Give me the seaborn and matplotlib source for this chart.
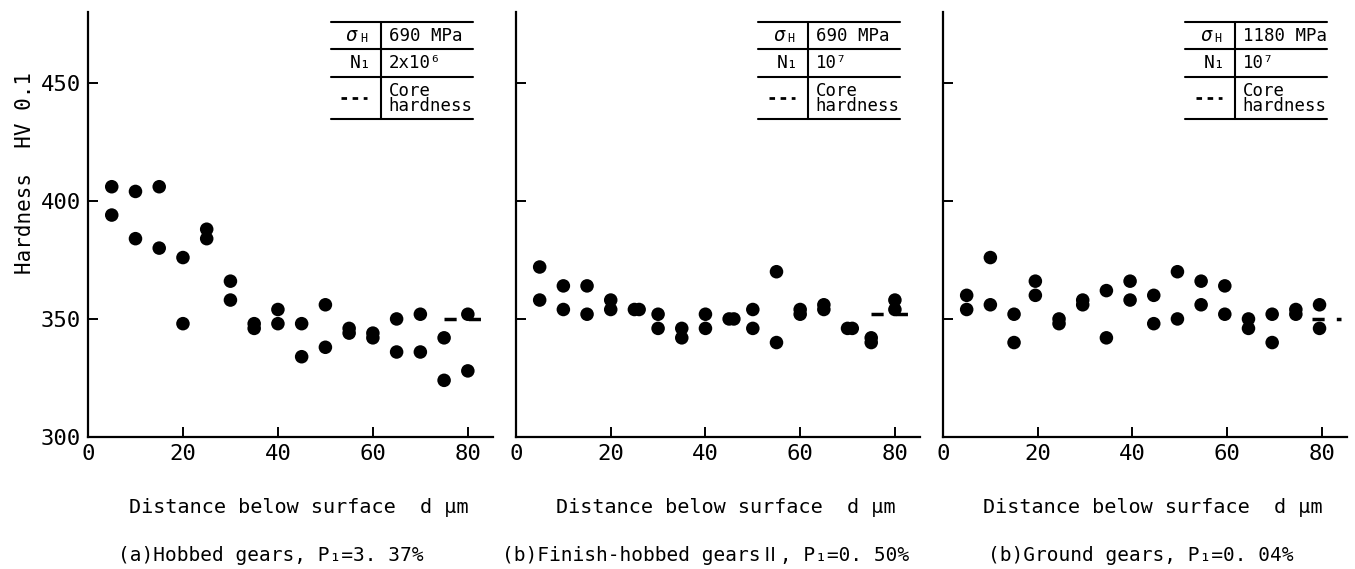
import pandas as pd
import matplotlib
matplotlib.use("Agg")
import matplotlib.pyplot as plt
import seaborn as sns

# ----------------------------------------------------------
# data
# ----------------------------------------------------------
a_x = [5, 5, 10, 10, 15, 15, 20, 20, 25, 25, 30, 30, 35, 35, 40, 40,
       45, 45, 50, 50, 55, 55, 60, 60, 65, 65, 70, 70, 75, 75, 80, 80]
a_y = [406, 394, 404, 384, 406, 380, 376, 348, 388, 384, 366, 358, 348, 346, 354, 348,
       348, 334, 356, 338, 346, 344, 344, 342, 350, 336, 352, 336, 342, 324, 352, 328]

b_x = [5, 5, 10, 10, 15, 15, 20, 20, 25, 26, 30, 30, 35, 35, 40, 40,
       45, 46, 50, 50, 55, 55, 60, 60, 65, 65, 70, 71, 75, 75, 80, 80]
b_y = [372, 358, 364, 354, 364, 352, 358, 354, 354, 354, 352, 346, 346, 342, 352, 346,
       350, 350, 354, 346, 370, 340, 354, 352, 356, 354, 346, 346, 342, 340, 358, 354]

c_x = [5, 5, 10, 10, 15, 15, 19.5, 19.5, 24.5, 24.5, 29.5, 29.5, 34.5, 34.5, 39.5, 39.5,
       44.5, 44.5, 49.5, 49.5, 54.5, 54.5, 59.5, 59.5, 64.5, 64.5, 69.5, 69.5, 74.5, 74.5, 79.5, 79.5]
c_y = [360, 354, 376, 356, 352, 340, 366, 360, 350, 348, 358, 356, 362, 342, 366, 358,
       360, 348, 370, 350, 366, 356, 364, 352, 350, 346, 352, 340, 354, 352, 356, 346]

core_hv = [350, 352, 350]
core_from = [75, 75, 78]
core_to = [85, 85, 84]

stress = ["690 MPa", "690 MPa", "1180 MPa"]
cycles = ["2x10\u2076", "10\u2077", "10\u2077"]
captions = ["(a)Hobbed gears, P\u2081=3. 37%",
            "(b)Finish-hobbed gears\u2161, P\u2081=0. 50%",
            "(b)Ground gears, P\u2081=0. 04%"]
xlabel = "Distance below surface  d \u03bcm"
ylabel = "Hardness  HV 0.1"

sns.set_style("ticks")
plt.rcParams["font.family"] = ["DejaVu Sans Mono", "Noto Sans CJK JP", "DejaVu Sans"]
plt.rcParams["text.color"] = "black"

fig = plt.figure(figsize=(13.55, 5.69), dpi=100)
lefts = [88, 516, 943]
rights = [493, 920, 1347]
cap_pos = [0.45, 0.47, 0.49]
panels = [(a_x, a_y), (b_x, b_y), (c_x, c_y)]

for i, (xs, ys) in enumerate(panels):
    l = lefts[i] / 1355
    w = (rights[i] - lefts[i]) / 1355
    ax = fig.add_axes([l, 1 - 437 / 569, w, 425 / 569])
    df = pd.DataFrame({"d": xs, "hv": ys})
    sns.scatterplot(data=df, x="d", y="hv", ax=ax, color="black", s=95,
                    edgecolor="none", zorder=3)
    ax.plot([core_from[i], core_to[i]], [core_hv[i], core_hv[i]], color="black",
            lw=2.5, ls=(0, (3.5, 3.5)), zorder=2)

    ax.set_xlim(0, 85.3)
    ax.set_ylim(300, 480)
    ax.set_xticks([0, 20, 40, 60, 80])
    ax.set_yticks([300, 350, 400, 450])
    ax.set_xlabel("")
    ax.set_ylabel("")
    sns.despine(ax=ax)
    for s in ["left", "bottom"]:
        ax.spines[s].set_linewidth(1.6)
        ax.spines[s].set_color("black")
    ax.tick_params(direction="in", length=7, width=1.4, colors="black",
                   labelsize=16, pad=5)
    if i > 0:
        ax.set_yticklabels([])

    ax.text(0.52, -0.167, xlabel, transform=ax.transAxes, ha="center",
            va="center", fontsize=14.5)
    ax.text(cap_pos[i], -0.278, captions[i], transform=ax.transAxes,
            ha="center", va="center", fontsize=14)

    # little table in the corner
    x0, x1, xm = 0.60, 0.95, 0.723
    for yy in [0.976, 0.913, 0.847, 0.748]:
        ax.plot([x0, x1], [yy, yy], transform=ax.transAxes, color="black",
                lw=1.5, clip_on=False)
    ax.plot([xm, xm], [0.976, 0.748], transform=ax.transAxes, color="black",
            lw=1.5, clip_on=False)
    ax.text(0.665, 0.944, "\u03c3", transform=ax.transAxes, ha="right",
            va="center", fontsize=14, style="italic")
    ax.text(0.672, 0.938, "H", transform=ax.transAxes, ha="left",
            va="center", fontsize=8.5)
    ax.text(0.700, 0.880, "N\u2081", transform=ax.transAxes, ha="right",
            va="center", fontsize=13)
    ax.text(0.742, 0.944, stress[i], transform=ax.transAxes, ha="left",
            va="center", fontsize=12.5)
    ax.text(0.742, 0.880, cycles[i], transform=ax.transAxes, ha="left",
            va="center", fontsize=12.5)
    ax.plot([0.625, 0.69], [0.797, 0.797], transform=ax.transAxes,
            color="black", lw=2, ls=(0, (2, 2)))
    ax.text(0.742, 0.797, "Core\nhardness", transform=ax.transAxes, ha="left",
            va="center", fontsize=12.5, linespacing=0.75)

fig.text(25 / 1355, 1 - 173 / 569, ylabel, rotation=90, ha="center",
         va="center", fontsize=15)

plt.savefig("out.png", dpi=100)
